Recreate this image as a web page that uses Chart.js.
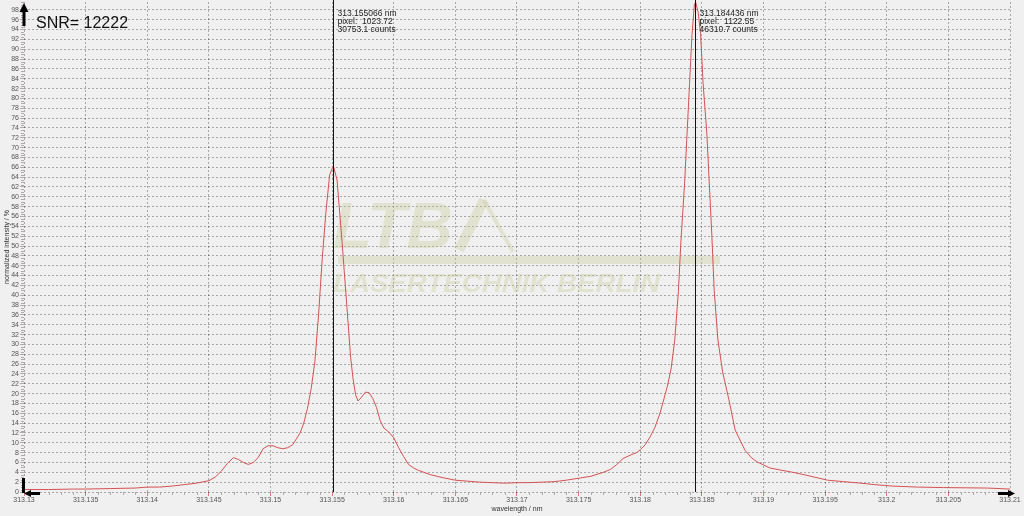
<!DOCTYPE html>
<html>
<head>
<meta charset="utf-8">
<script src="https://cdn.jsdelivr.net/npm/chart.js@4.4.1/dist/chart.umd.min.js"></script>
<style>
  html, body { margin: 0; padding: 0; background: #f0f0f0; }
  #wrap { width: 1024px; height: 516px; position: relative; }
</style>
</head>
<body>
<div id="wrap"><canvas id="myChart"></canvas></div>
<script>
// spectrum (wavelength in nm, normalized intensity in %)
let wavelengths = [
  313.1300, 313.1320, 313.1340, 313.1350, 313.1370, 313.1390, 313.1400, 313.1410,
  313.1420, 313.1430, 313.1440, 313.1450, 313.1455, 313.1460, 313.1465, 313.1470,
  313.1474, 313.1478, 313.1482, 313.1486, 313.1490, 313.1494, 313.1498, 313.1502,
  313.1506, 313.1510, 313.1514, 313.1518, 313.1521, 313.1524, 313.1527, 313.1530,
  313.1533, 313.1536, 313.1539, 313.1542, 313.1545, 313.1548, 313.1551, 313.1554,
  313.1558, 313.1562, 313.1565, 313.1567, 313.1569, 313.1571, 313.1574, 313.1577,
  313.1580, 313.1583, 313.1586, 313.1589, 313.1592, 313.1596, 313.1600, 313.1604,
  313.1608, 313.1612, 313.1616, 313.1620, 313.1630, 313.1640, 313.1650, 313.1660,
  313.1670, 313.1680, 313.1690, 313.1700, 313.1710, 313.1720, 313.1730, 313.1740,
  313.1750, 313.1760, 313.1770, 313.1776, 313.1781, 313.1786, 313.1792, 313.1797,
  313.1800, 313.1804, 313.1808, 313.1812, 313.1816, 313.1819, 313.1822, 313.1825,
  313.1828, 313.1831, 313.1833, 313.1836, 313.1838, 313.1840, 313.1842, 313.1844,
  313.1845, 313.1847, 313.1849, 313.1851, 313.1854, 313.1856, 313.1858, 313.1860,
  313.1863, 313.1867, 313.1872, 313.1877, 313.1882, 313.1885, 313.1890, 313.1895,
  313.1900, 313.1905, 313.1915, 313.1922, 313.1935, 313.1952, 313.1965, 313.1979,
  313.1990, 313.2005, 313.2025, 313.2046, 313.2065, 313.2082, 313.2100
];
let intensity = [
  0.5, 0.5, 0.6, 0.6, 0.7, 0.8, 1.0, 1.0,
  1.2, 1.5, 1.8, 2.3, 3.0, 4.2, 5.8, 7.0,
  6.6, 6.0, 5.6, 6.0, 7.0, 8.8, 9.4, 9.4,
  9.0, 8.8, 9.0, 9.6, 10.8, 12.0, 14.0, 17.0,
  21.0, 26.5, 36.0, 47.5, 57.0, 64.5, 66.3, 63.4,
  51.0, 37.6, 27.4, 23.0, 19.8, 18.5, 19.3, 20.3,
  20.2, 19.0, 17.2, 14.5, 13.0, 12.2, 11.0, 9.0,
  7.2, 5.6, 4.9, 4.4, 3.5, 2.9, 2.4, 2.2,
  2.0, 1.9, 1.8, 1.9, 1.9, 2.0, 2.1, 2.4,
  2.8, 3.2, 4.0, 4.6, 5.6, 6.8, 7.5, 8.0,
  8.6, 9.6, 11.2, 13.2, 16.0, 18.7, 21.5, 25.0,
  30.9, 41.0, 51.0, 62.8, 73.0, 83.0, 93.0, 99.2,
  99.5, 97.5, 93.0, 83.0, 73.0, 62.8, 52.6, 41.0,
  30.9, 24.2, 18.7, 12.6, 10.0, 8.5, 7.0, 6.1,
  5.5, 4.9, 4.4, 4.1, 3.4, 2.4, 2.1, 1.8,
  1.5, 1.2, 1.0, 0.9, 0.85, 0.8, 0.6
];

// cursor markers
let cursorWavelengths = [313.155066, 313.184436];
let cursorPixels = ["1023.72", "1122.55"];
let cursorCounts = ["30753.1", "46310.7"];

let snrText = "SNR= 12222";
let xMin = 313.13, xMax = 313.21, xStep = 0.005, xMinorStep = 0.001;
let yMin = 0, yMax = 99.6, yStep = 2, yMinorStep = 0.5;

let points = wavelengths.map((w, i) => ({ x: w, y: intensity[i] }));

const tickFont = { family: "'Liberation Sans', Arial, sans-serif", size: 7 };
const gridColor = "rgba(0,0,0,0.3)";

function arrow(c, x1, y1, x2, y2, w, head) {
  let a = Math.atan2(y2 - y1, x2 - x1);
  c.save();
  c.strokeStyle = "#000";
  c.fillStyle = "#000";
  c.lineWidth = w;
  c.beginPath();
  c.moveTo(x1, y1);
  c.lineTo(x2 - Math.cos(a) * head * 0.8, y2 - Math.sin(a) * head * 0.8);
  c.stroke();
  c.beginPath();
  c.moveTo(x2, y2);
  c.lineTo(x2 - Math.cos(a) * head - Math.sin(a) * head * 0.5, y2 - Math.sin(a) * head + Math.cos(a) * head * 0.5);
  c.lineTo(x2 - Math.cos(a) * head + Math.sin(a) * head * 0.5, y2 - Math.sin(a) * head - Math.cos(a) * head * 0.5);
  c.closePath();
  c.fill();
  c.restore();
}

const extras = {
  id: "extras",
  beforeDraw(chart) {
    let c = chart.ctx;
    c.save();
    c.fillStyle = "#f0f0f0";
    c.fillRect(0, 0, chart.width, chart.height);
    c.restore();
  },
  beforeDatasetsDraw(chart) {
    // faint company logo behind the curve
    let c = chart.ctx;
    c.save();
    c.fillStyle = "rgba(200,200,150,0.35)";
    c.strokeStyle = "rgba(200,200,150,0.35)";
    c.font = "italic bold 64px 'Liberation Sans', Arial, sans-serif";
    c.fillText("LTB", 333, 248);
    c.lineCap = "butt";
    c.lineWidth = 10;
    c.beginPath();
    c.moveTo(459, 250);
    c.lineTo(484, 200);
    c.stroke();
    c.lineWidth = 4;
    c.beginPath();
    c.moveTo(484, 200);
    c.lineTo(513, 252);
    c.stroke();
    c.fillRect(338, 256, 382, 8);
    c.font = "italic bold 26px 'Liberation Sans', Arial, sans-serif";
    let tw = c.measureText("LASERTECHNIK BERLIN").width;
    c.translate(333, 292);
    c.scale(327 / tw, 1);
    c.fillText("LASERTECHNIK BERLIN", 0, 0);
    c.restore();
  },
  afterDatasetsDraw(chart) {
    let c = chart.ctx;
    let xs = chart.scales.x, ys = chart.scales.y;
    let area = chart.chartArea;
    c.save();

    // minor ticks (skip the major positions, those keep their own colour)
    c.strokeStyle = "#b4a8a8";
    c.lineWidth = 1;
    c.beginPath();
    let nY = Math.round((yMax - yMin) / yMinorStep);
    for (let i = 0; i <= nY; i++) {
      if (i % Math.round(yStep / yMinorStep) === 0) continue;
      let py = Math.round(ys.getPixelForValue(yMin + i * yMinorStep)) + 0.5;
      c.moveTo(area.left - 3, py);
      c.lineTo(area.left, py);
    }
    let nX = Math.round((xMax - xMin) / xMinorStep);
    for (let i = 0; i <= nX; i++) {
      if (i % Math.round(xStep / xMinorStep) === 0) continue;
      let px = Math.round(xs.getPixelForValue(xMin + i * xMinorStep)) + 0.5;
      c.moveTo(px, area.bottom);
      c.lineTo(px, area.bottom + 3);
    }
    c.stroke();

    // cursor lines with readouts
    c.font = "8.5px 'Liberation Sans', Arial, sans-serif";
    c.fillStyle = "#222";
    for (let i = 0; i < cursorWavelengths.length; i++) {
      let px = Math.round(xs.getPixelForValue(cursorWavelengths[i])) + 0.5;
      c.strokeStyle = "#111";
      c.beginPath();
      c.moveTo(px, 0);
      c.lineTo(px, area.bottom);
      c.stroke();
      c.fillText(cursorWavelengths[i].toFixed(6) + " nm", px + 4, 16);
      c.fillText("pixel:  " + cursorPixels[i], px + 4, 23.8);
      c.fillText(cursorCounts[i] + " counts", px + 4, 31.6);
    }

    // SNR label
    c.font = "16px 'Liberation Sans', Arial, sans-serif";
    c.fillStyle = "#111";
    c.fillText(snrText, 36, 28);

    // axis arrows
    arrow(c, area.left, 26, area.left, 3, 3, 9);
    arrow(c, area.right - 12, area.bottom + 1.5, area.right + 5, area.bottom + 1.5, 3, 7);
    c.fillStyle = "#000";
    c.fillRect(area.left - 2, area.bottom - 14, 3, 15);
    arrow(c, area.left + 16, area.bottom + 1.5, area.left, area.bottom + 1.5, 3, 7);
    c.restore();
  }
};

let ctx = document.getElementById("myChart").getContext("2d");
let chart = new Chart(ctx, {
  type: "line",
  data: {
    datasets: [
      {
        data: points,
        borderColor: "#d65252",
        borderWidth: 1,
        pointRadius: 0,
        tension: 0,
        fill: false,
      },
    ],
  },
  options: {
    responsive: true,
    maintainAspectRatio: false,
    animation: false,
    devicePixelRatio: 1,
    layout: { padding: { top: 2, right: 14, left: 0, bottom: 0 } },
    plugins: {
      legend: { display: false },
      tooltip: { enabled: false },
    },
    scales: {
      x: {
        type: "linear",
        min: xMin,
        max: xMax,
        afterFit: (s) => { s.height = 24; },
        ticks: {
          stepSize: xStep,
          autoSkip: false,
          maxRotation: 0,
          padding: 0,
          font: tickFont,
          color: "#555",
          callback: (v) => Number(v.toFixed(3)).toString(),
        },
        grid: { color: gridColor, tickColor: "#e07a7a", tickLength: 4 },
        border: { display: false, dash: [2, 2] },
        title: {
          display: true,
          text: "wavelength / nm",
          font: tickFont,
          color: "#333",
          padding: { top: 0, bottom: 3 },
        },
      },
      y: {
        min: yMin,
        max: yMax,
        afterFit: (s) => { s.width = 24; },
        ticks: {
          stepSize: yStep,
          includeBounds: false,
          autoSkip: false,
          padding: 1,
          font: { family: tickFont.family, size: 7, lineHeight: 0.2 },
          color: "#555",
        },
        grid: { color: gridColor, tickColor: "#b4a8a8", tickLength: 4 },
        border: { display: false, dash: [2, 2] },
        title: {
          display: true,
          text: "normalized intensity / %",
          font: tickFont,
          color: "#333",
          padding: { top: 3, bottom: 0 },
        },
      },
    },
  },
  plugins: [extras],
});
</script>
</body>
</html>
